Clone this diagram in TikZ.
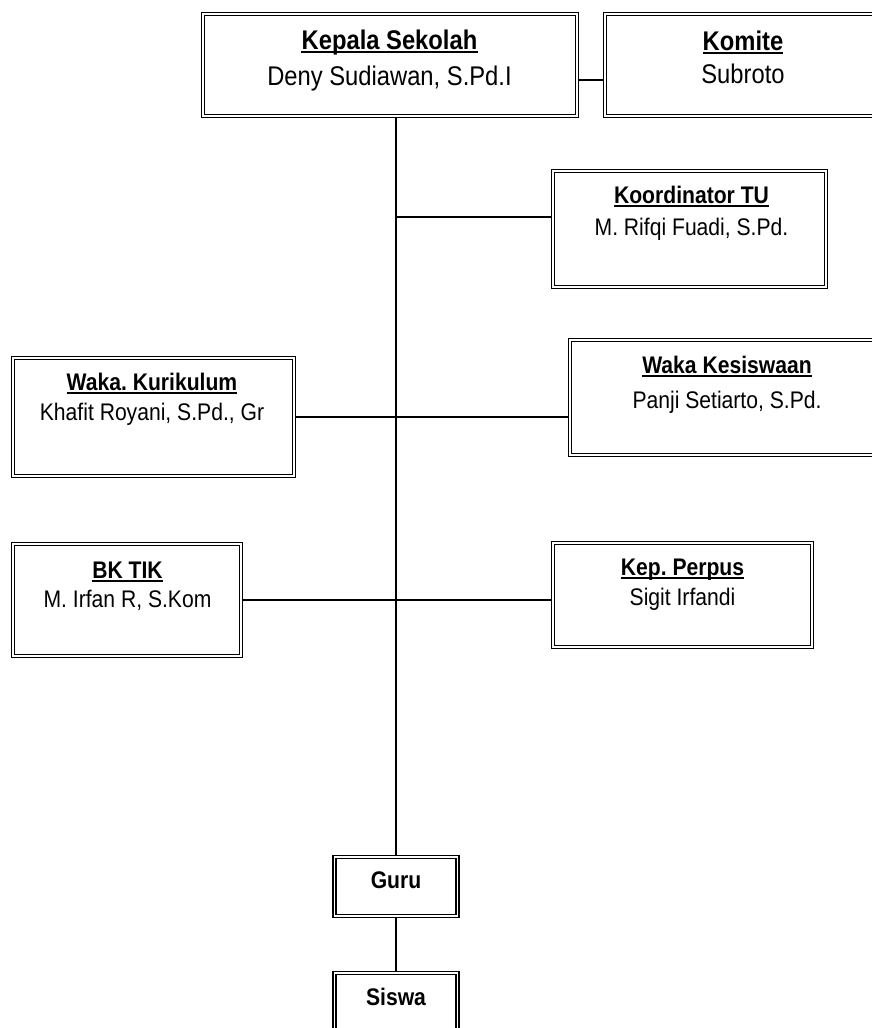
\documentclass[tikz,border=0pt]{standalone}
\usepackage{fontspec}
\setmainfont{Liberation Sans}[FakeStretch=0.88]
\frenchspacing
\tikzset{
  orgbox/.style={draw, line width=1.1pt, double=white, double distance=1.9pt, inner sep=0pt, fill=white},
  ttlbig/.style={inner sep=0pt, anchor=base, font=\fontsize{27}{31}\selectfont\bfseries},
  subbig/.style={inner sep=0pt, anchor=base, font=\fontsize{27}{31}\selectfont},
  ttl/.style={inner sep=0pt, anchor=base, font=\fontsize{24}{28}\selectfont\bfseries},
  sub/.style={inner sep=0pt, anchor=base, font=\fontsize{24}{28}\selectfont},
  uline/.style={line width=1.6pt},
  conn/.style={line width=1.4pt},
  trunk/.style={line width=2pt}
}
\newcommand\utitle[5]{%
  \node[#1] (#2) at (#3,#4) {#5};
  \draw[uline] ([yshift=-3pt]#2.base west) -- ([yshift=-3pt]#2.base east);}
\begin{document}
\begin{tikzpicture}[x=1pt,y=-1pt]
\useasboundingbox (0,0) rectangle (872,1028);
\clip (0,0) rectangle (872,1028);
\fill[white] (0,0) rectangle (872,1028);

% boxes
\node[orgbox, minimum width=374pt, minimum height=102pt] (kepala) at (390,65) {};
\node[orgbox, minimum width=277pt, minimum height=102pt] (komite) at (743.5,65) {};
\node[orgbox, minimum width=273pt, minimum height=116pt] (tu) at (689.5,229) {};
\node[orgbox, minimum width=281pt, minimum height=118pt] (kur) at (153.5,417) {};
\node[orgbox, minimum width=312pt, minimum height=115pt] (kes) at (726,397.5) {};
\node[orgbox, minimum width=228pt, minimum height=112pt] (bk) at (127,600) {};
\node[orgbox, minimum width=259pt, minimum height=104pt] (perpus) at (682.5,595) {};
\node[orgbox, minimum width=123pt, minimum height=59pt] (guru) at (396,886.5) {};
\node[orgbox, minimum width=123pt, minimum height=65pt] (siswa) at (396,1005.5) {};

% connectors
\draw[trunk] (kepala.south -| guru.north) -- (guru.north);
\draw[conn] ([yshift=-15pt]kepala.east) -- ([yshift=-15pt]kepala.east -| komite.west);
\coordinate (jtu) at (396,217);
\draw[conn] (jtu) -- (jtu -| tu.west);
\draw[conn] (kur.east) -- (kur.east -| kes.west);
\draw[conn] (bk.east) -- (bk.east -| perpus.west);
\draw[conn] (guru.south) -- (siswa.north);

% texts
\utitle{ttlbig}{kepalat}{389.5}{49}{Kepala Sekolah}
\node[subbig] (kepalas) at (389.5,85) {Deny Sudiawan, S.Pd.I};
\utitle{ttlbig}{komitet}{743}{50}{Komite}
\node[subbig] (komites) at (743,83) {Subroto};
\utitle{ttl}{tut}{691.5}{203}{Koordinator TU}
\node[sub] (tus) at (691.5,235) {M. Rifqi Fuadi, S.Pd.};
\utitle{ttl}{kurt}{152}{390}{Waka. Kurikulum}
\node[sub] (kurs) at (152,420) {Khafit Royani, S.Pd., Gr};
\utitle{ttl}{kest}{727}{373}{Waka Kesiswaan}
\node[sub] (kess) at (727,408) {Panji Setiarto, S.Pd.};
\utitle{ttl}{bkt}{127.5}{578}{BK TIK}
\node[sub] (bks) at (127.5,607) {M. Irfan R, S.Kom};
\utitle{ttl}{perpust}{682.5}{575}{Kep. Perpus}
\node[sub] (perpuss) at (682.5,605) {Sigit Irfandi};
\node[ttl] (gurut) at (396,888) {Guru};
\node[ttl] (siswat) at (396,1005) {Siswa};
\end{tikzpicture}
\end{document}
